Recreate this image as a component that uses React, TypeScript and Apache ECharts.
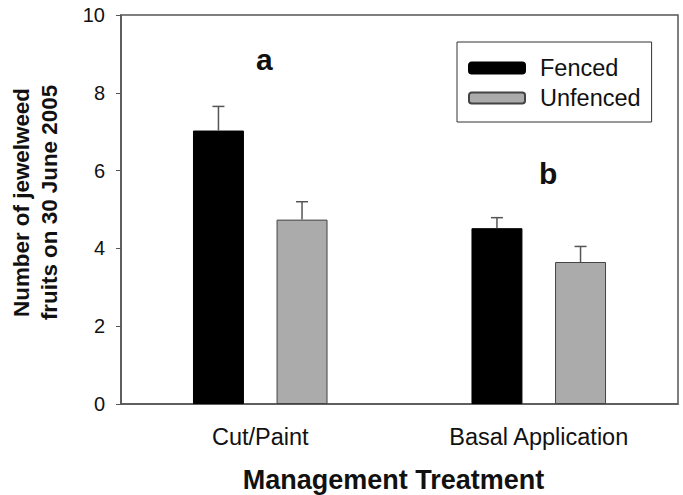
import React, { useEffect, useRef } from "react";
import * as echarts from "echarts";

const categories = ["Cut/Paint", "Basal Application"];
const fencedValues = [7.03, 4.52];
const fencedErrors = [0.62, 0.27];
const unfencedValues = [4.74, 3.65];
const unfencedErrors = [0.46, 0.4];
const yTicks = [0, 2, 4, 6, 8, 10];

const FONT = "Liberation Sans, Arial, Helvetica, sans-serif";
const BAR_PCT = 0.183;
const GAP_PCT = 0.64;

function errorSeries(name: string, values: number[], errors: number[], side: number) {
  return {
    type: "custom",
    name: name + " error",
    z: 5,
    silent: true,
    data: values.map((v, i) => [i, v, v + errors[i]]),
    renderItem: (params: any, api: any) => {
      const band = api.size([1, 0])[0];
      const barW = band * BAR_PCT;
      const offset = side * (barW + barW * GAP_PCT) / 2;
      const base = api.coord([api.value(0), api.value(1)]);
      const top = api.coord([api.value(0), api.value(2)]);
      const x = base[0] + offset;
      const cap = 6;
      const style = { stroke: "#555", lineWidth: 1.5, fill: "none" };
      return {
        type: "group",
        children: [
          { type: "line", shape: { x1: x, y1: base[1], x2: x, y2: top[1] }, style },
          { type: "line", shape: { x1: x - cap, y1: top[1], x2: x + cap, y2: top[1] }, style },
        ],
      };
    },
  };
}

export default function App() {
  const ref = useRef<HTMLDivElement>(null);
  useEffect(() => {
    if (!ref.current) return;
    const chart = echarts.init(ref.current, undefined, { renderer: "svg" });
    chart.setOption({
      animation: false,
      backgroundColor: "#fff",
      textStyle: { fontFamily: FONT },
      grid: {
        left: 121,
        right: 5,
        top: 15,
        bottom: 91,
        containLabel: false,
        outerBoundsMode: "none",
        show: true,
        borderColor: "#555",
        borderWidth: 1.5,
        backgroundColor: "transparent",
      },
      legend: {
        orient: "vertical",
        left: 457,
        top: 42,
        padding: [14, 11, 12, 11],
        itemWidth: 56,
        itemHeight: 11,
        itemGap: 6,
        borderColor: "#333",
        borderWidth: 1,
        textStyle: { fontFamily: FONT, fontSize: 23.5, color: "#111", padding: [0, 0, 0, 10] },
        data: ["Fenced", "Unfenced"],
      },
      xAxis: {
        type: "category",
        data: categories,
        axisLine: { lineStyle: { color: "#555", width: 1.5 } },
        axisTick: { alignWithLabel: true, length: 4, lineStyle: { color: "#555" } },
        axisLabel: { fontFamily: FONT, fontSize: 23.5, color: "#111", margin: 21 },
        name: "Management Treatment",
        nameLocation: "middle",
        nameGap: 62,
        nameTextStyle: { fontFamily: FONT, fontSize: 27, fontWeight: "bold", color: "#111", padding: [0, 12, 0, 0] },
      },
      yAxis: {
        type: "value",
        min: yTicks[0],
        max: yTicks[yTicks.length - 1],
        interval: 2,
        splitLine: { show: false },
        axisLine: { show: true, lineStyle: { color: "#555", width: 1.5 } },
        axisTick: { show: true, length: 5, lineStyle: { color: "#555" } },
        axisLabel: { fontFamily: FONT, fontSize: 20, color: "#111", margin: 16 },
        name: "Number of jewelweed\nfruits on 30 June 2005",
        nameLocation: "middle",
        nameGap: 58,
        nameTextStyle: {
          fontFamily: FONT,
          fontSize: 22.4,
          fontWeight: "bold",
          color: "#111",
          lineHeight: 27.7,
          padding: [0, 0, 0, 14],
        },
      },
      series: [
        {
          name: "Fenced",
          type: "bar",
          data: fencedValues,
          barWidth: (BAR_PCT * 100).toFixed(1) + "%",
          barGap: GAP_PCT * 100 + "%",
          itemStyle: { color: "#000", borderColor: "#000", borderWidth: 1 },
        },
        {
          name: "Unfenced",
          type: "bar",
          data: unfencedValues,
          barWidth: (BAR_PCT * 100).toFixed(1) + "%",
          barGap: GAP_PCT * 100 + "%",
          itemStyle: { color: "#ababab", borderColor: "#444", borderWidth: 1 },
        },
        errorSeries("Fenced", fencedValues, fencedErrors, -1),
        errorSeries("Unfenced", unfencedValues, unfencedErrors, 1),
      ],
      graphic: [
        {
          type: "text",
          x: 256,
          y: 59,
          style: { text: "a", font: "bold 30px " + FONT, fill: "#111", verticalAlign: "middle", align: "left" },
        },
        {
          type: "text",
          x: 539,
          y: 173,
          style: { text: "b", font: "bold 30px " + FONT, fill: "#111", verticalAlign: "middle", align: "left" },
        },
      ],
    });
    return () => chart.dispose();
  }, []);
  return <div ref={ref} style={{ width: 683, height: 495, position: "absolute", left: 0, top: 0 }} />;
}
